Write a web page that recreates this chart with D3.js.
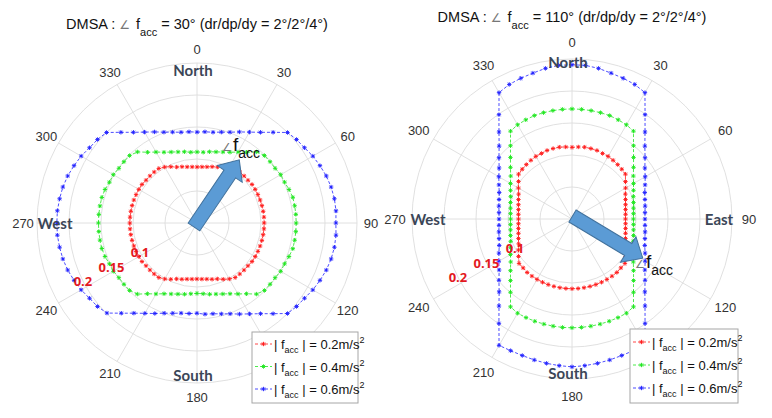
<!DOCTYPE html>
<html><head><meta charset="utf-8">
<script src="https://cdn.jsdelivr.net/npm/d3@7"></script>
<style>body{margin:0;background:#fff}svg{display:block}</style>
</head><body>
<svg id="c" width="772" height="418"></svg>
<script>
// ---------------- data ----------------
const angleDeg = d3.range(0, 360, 5);           // sampling headings (deg)
const ringTicks = [0.05, 0.1, 0.15, 0.2, 0.25];
const ringLabelValues = [0.1, 0.15, 0.2];
const ringLabelText = ["0.1", "0.15", "0.2"];
const angleTicks = [0, 30, 60, 90, 120, 150, 180, 210, 240, 270, 300, 330];
const angleTickLabels = [0, 30, 60, 90, 120, 180, 210, 240, 270, 300, 330]; // 150 hidden by legend
const seriesAcc = ["0.2", "0.4", "0.6"];
const seriesColors = ["#ff1a1a", "#1ee61e", "#2020ff"];
const titleAngles = ["30", "110"];

// left plot (facc angle 30 deg)
const redLeft = [
0.0875,0.088,0.089,0.091,0.093,0.097,0.101,0.104,0.104,0.104,0.104,0.105,0.105,0.105,0.105,0.105,0.105,0.105,
0.105,0.105,0.105,0.105,0.105,0.105,0.105,0.105,0.104,0.104,0.104,0.104,0.101,0.097,0.093,0.091,0.089,0.088,
0.0875,0.088,0.089,0.091,0.093,0.097,0.101,0.104,0.104,0.104,0.104,0.105,0.105,0.105,0.105,0.105,0.105,0.105,
0.105,0.105,0.105,0.105,0.105,0.105,0.105,0.105,0.104,0.104,0.104,0.104,0.101,0.097,0.093,0.091,0.089,0.088];
const greenLeft = [
0.111,0.111,0.113,0.115,0.118,0.122,0.128,0.135,0.145,0.149,0.149,0.149,0.151,0.151,0.153,0.155,0.155,0.155,
0.155,0.155,0.155,0.155,0.153,0.151,0.151,0.149,0.149,0.149,0.145,0.135,0.128,0.122,0.118,0.115,0.113,0.111,
0.110,0.111,0.113,0.115,0.118,0.122,0.128,0.135,0.145,0.149,0.149,0.149,0.151,0.151,0.153,0.154,0.154,0.154,
0.154,0.154,0.154,0.154,0.153,0.151,0.151,0.149,0.149,0.149,0.145,0.135,0.128,0.122,0.118,0.115,0.113,0.111];
const blueLeft = [
0.142,0.143,0.144,0.147,0.151,0.157,0.164,0.173,0.185,0.200,0.203,0.205,0.209,0.212,0.215,0.217,0.218,0.218,
0.217,0.218,0.218,0.217,0.215,0.212,0.209,0.205,0.203,0.200,0.185,0.173,0.164,0.157,0.151,0.147,0.144,0.143,
0.141,0.142,0.143,0.146,0.150,0.156,0.163,0.172,0.184,0.199,0.203,0.205,0.209,0.212,0.215,0.217,0.218,0.219,
0.219,0.219,0.218,0.217,0.215,0.212,0.209,0.205,0.203,0.200,0.185,0.173,0.164,0.157,0.151,0.147,0.144,0.143];

// right plot (facc angle 110 deg)
const redRight = [
0.112,0.113,0.114,0.114,0.114,0.113,0.113,0.112,0.111,0.110,0.109,0.102,0.0966,0.092,0.089,0.0866,0.085,0.084,
0.0836,0.084,0.085,0.0866,0.089,0.092,0.0966,0.102,0.108,0.108,0.109,0.109,0.109,0.109,0.109,0.109,0.109,0.109,
0.109,0.109,0.109,0.109,0.109,0.109,0.109,0.109,0.109,0.108,0.108,0.102,0.0966,0.092,0.089,0.0866,0.085,0.084,
0.0836,0.084,0.085,0.0866,0.089,0.092,0.0966,0.102,0.109,0.110,0.111,0.112,0.113,0.113,0.114,0.114,0.114,0.113];
const greenRight = [
0.172,0.172,0.172,0.172,0.172,0.171,0.170,0.1675,0.1495,0.136,0.1255,0.117,0.111,0.106,0.102,0.0995,0.0975,0.0964,
0.096,0.0964,0.0975,0.0995,0.102,0.106,0.111,0.117,0.1255,0.136,0.1495,0.1675,0.170,0.170,0.170,0.170,0.170,0.170,
0.170,0.170,0.170,0.170,0.170,0.170,0.170,0.1675,0.1495,0.136,0.1255,0.117,0.111,0.106,0.102,0.0995,0.0975,0.0964,
0.096,0.0964,0.0975,0.0995,0.102,0.106,0.111,0.117,0.1255,0.136,0.1495,0.1675,0.170,0.171,0.172,0.172,0.172,0.172];
const blueRight = [
0.241,0.241,0.239,0.236,0.234,0.232,0.228,0.199,0.1775,0.161,0.149,0.139,0.132,0.126,0.121,0.118,0.116,0.1145,
0.114,0.1145,0.116,0.118,0.121,0.126,0.132,0.139,0.149,0.161,0.1775,0.199,0.228,0.227,0.227,0.228,0.229,0.230,
0.231,0.230,0.229,0.228,0.227,0.227,0.228,0.199,0.1775,0.161,0.149,0.139,0.132,0.126,0.121,0.118,0.116,0.1145,
0.114,0.1145,0.116,0.118,0.121,0.126,0.132,0.139,0.149,0.161,0.1775,0.199,0.228,0.232,0.234,0.236,0.239,0.241];

const arrowHeadings = [34, 121];

// ---------------- drawing ----------------
const svg = d3.select("#c");
const rad = d => d * Math.PI / 180;
const FONT = "Liberation Sans, Arial, sans-serif";
const BOLD = "Lato, 'Open Sans', sans-serif";

const plots = [
  {cx:197, cy:223, R:160, labelR:174, titleY:29, series:[redLeft, greenLeft, blueLeft],
   compass:[["North",0,153],["West",270,144],["South",180,152]],
   arrow:{heading:arrowHeadings[0], tail:[-3,4], len:81},
   arrowLabel:{x:222, y:151},
   legend:{x:252, y:332, w:106, h:71, rows:[344,366.5,389]},
   title:titleAngles[0]},
  {cx:572, cy:219, R:160, labelR:177, titleY:22, series:[redRight, greenRight, blueRight],
   compass:[["North",0,157],["West",270,146],["East",90,147],["South",180,154]],
   arrow:{heading:arrowHeadings[1], tail:[0.5,-3], len:82},
   arrowLabel:{x:635, y:268},
   legend:{x:630, y:329, w:108, h:74, rows:[342,365,388]},
   title:titleAngles[1]}
];

function star(s){
  const k = s*0.72;
  return `M${-s},0H${s}M0,${-s}V${s}M${-k},${-k}L${k},${k}M${-k},${k}L${k},${-k}`;
}

plots.forEach(p => {
  const r = d3.scaleLinear().domain([0, 0.25]).range([0, p.R]);
  const G = svg.append("g").attr("transform", `translate(${p.cx},${p.cy})`);

  // title
  const t = svg.append("text").attr("x", p.cx).attr("y", p.titleY)
    .attr("text-anchor","middle").attr("font-family",FONT).attr("font-size",14.5).attr("fill","#111");
  t.append("tspan").text("DMSA : ");
  t.append("tspan").attr("fill","#777").attr("font-size",12).attr("font-family","DejaVu Sans").text("∠");
  t.append("tspan").attr("dx",6).text("f");
  t.append("tspan").attr("dy",7).attr("font-size",11).text("acc");
  t.append("tspan").attr("dy",-7).text(` = ${p.title}° (dr/dp/dy = 2°/2°/4°)`);

  // grid
  G.selectAll("circle.ring").data(ringTicks).join("circle")
    .attr("r", d => r(d)).attr("fill","none").attr("stroke","#dcdcdc").attr("stroke-width",0.9);
  G.selectAll("line.spoke").data(angleTicks).join("line")
    .attr("x1",0).attr("y1",0)
    .attr("x2", d => r(0.25)*Math.sin(rad(d))).attr("y2", d => -r(0.25)*Math.cos(rad(d)))
    .attr("stroke","#dcdcdc").attr("stroke-width",0.9);

  // angle tick labels
  G.selectAll("text.ang").data(angleTickLabels).join("text")
    .attr("x", d => p.labelR*Math.sin(rad(d))).attr("y", d => -p.labelR*Math.cos(rad(d)))
    .attr("text-anchor","middle").attr("dominant-baseline","central")
    .attr("font-family",FONT).attr("font-size",13).attr("fill","#333")
    .text(d => d);

  // series
  const line = d3.lineRadial().curve(d3.curveLinearClosed);
  p.series.forEach((vals, i) => {
    const pts = angleDeg.map((a, j) => [rad(a), r(vals[j])]);
    G.append("path").attr("d", line(pts)).attr("fill","none")
      .attr("stroke", seriesColors[i]).attr("stroke-width",0.8).attr("stroke-dasharray","3,2");
    G.append("g").selectAll("path").data(pts).join("path")
      .attr("transform", d => `translate(${d[1]*Math.sin(d[0])},${-d[1]*Math.cos(d[0])})`)
      .attr("d", star(2.2)).attr("fill","none").attr("stroke", seriesColors[i]).attr("stroke-width",0.9);
  });

  // ring labels
  const la = rad(243);
  G.selectAll("text.rl").data(ringLabelValues).join("text")
    .attr("x", d => r(d)*Math.sin(la)).attr("y", d => -r(d)*Math.cos(la))
    .attr("text-anchor","middle").attr("dominant-baseline","central")
    .attr("font-family","'Open Sans', Lato, sans-serif").attr("font-weight",700).attr("font-size",13).attr("fill","#e3191e")
    .text((d,i) => ringLabelText[i]);

  // compass labels
  G.selectAll("text.cmp").data(p.compass).join("text")
    .attr("x", d => d[2]*Math.sin(rad(d[1])) - (d[1]%180===0 ? 4 : 0) + (d[1]===270 ? 2 : 0))
    .attr("y", d => -d[2]*Math.cos(rad(d[1])))
    .attr("text-anchor","middle").attr("dominant-baseline","central")
    .attr("font-family",BOLD).attr("font-weight","bold").attr("font-size",15).attr("fill","#3b4657")
    .text(d => d[0]);

  // arrow
  const a = p.arrow, L = a.len, sw = 7, hw = 15, hl = 17;
  const shape = [[0,-sw],[L-hl,-sw],[L-hl,-hw],[L,0],[L-hl,hw],[L-hl,sw],[0,sw]];
  G.append("path")
    .attr("transform", `translate(${a.tail[0]},${a.tail[1]}) rotate(${a.heading-90})`)
    .attr("d", d3.line()(shape) + "Z")
    .attr("fill","#5b9bd5").attr("stroke","#41719c").attr("stroke-width",1);

  // arrow label
  const al = svg.append("text").attr("x", p.arrowLabel.x).attr("y", p.arrowLabel.y)
    .attr("font-family",FONT).attr("fill","#111");
  al.append("tspan").attr("font-family","DejaVu Sans").attr("font-size",11).attr("fill","#777").text("∠");
  al.append("tspan").attr("font-size",19).attr("dx",1).text("f");
  al.append("tspan").attr("font-size",14).attr("dy",7).text("acc");

  // legend
  const lg = svg.append("g");
  lg.append("rect").attr("x",p.legend.x).attr("y",p.legend.y).attr("width",p.legend.w).attr("height",p.legend.h)
    .attr("fill","#fff").attr("stroke","#a6a6a6").attr("stroke-width",1);
  seriesAcc.forEach((s, i) => {
    const y = p.legend.rows[i], x0 = p.legend.x + 3;
    lg.append("line").attr("x1",x0).attr("x2",x0+17).attr("y1",y).attr("y2",y)
      .attr("stroke",seriesColors[i]).attr("stroke-width",0.8).attr("stroke-dasharray","3,2");
    lg.append("path").attr("transform",`translate(${x0+8.5},${y})`).attr("d",star(2.2))
      .attr("fill","none").attr("stroke",seriesColors[i]).attr("stroke-width",0.9);
    const tx = lg.append("text").attr("x", x0+19).attr("y", y+5)
      .attr("font-family",FONT).attr("font-size",13).attr("fill","#111");
    tx.append("tspan").text("| f");
    tx.append("tspan").attr("font-size",9).attr("dy",4).text("acc");
    tx.append("tspan").attr("dy",-4).text(` | = ${s}m/s`);
    tx.append("tspan").attr("font-size",9).attr("dy",-6).text("2");
  });
});
</script>
</body></html>
